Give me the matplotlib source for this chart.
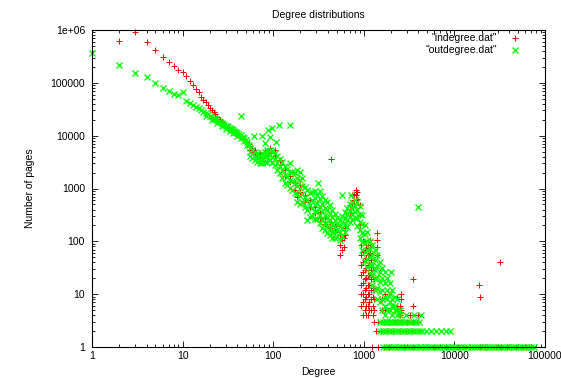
import matplotlib
matplotlib.use("Agg")
import matplotlib.pyplot as plt
from matplotlib.ticker import LogLocator, FuncFormatter, NullFormatter

plt.rcParams["font.family"] = ["Liberation Sans", "DejaVu Sans"]
plt.rcParams["font.size"] = 7.5

# ── indegree.dat (red "+") ───────────────────────────────────────────────────
in_head_deg = [2, 3, 4, 5, 6, 7, 8, 9, 10, 11, 12, 13, 14, 15, 16, 17, 18, 19, 20,
               21, 22, 23, 24, 25, 26, 27, 28, 30, 32, 34, 36, 38, 40, 43, 46, 50,
               54, 58, 62, 66, 70]
in_head_cnt = [630000, 910000, 590000, 420000, 307000, 243000, 204000, 176000,
               159000, 132000, 110000, 91000, 77000, 66000, 55000, 48000, 44000,
               38000, 34000, 31000, 28000, 25500, 23000, 21000, 19500, 18000,
               16800, 15000, 13700, 12700, 11800, 11000, 10300, 9500, 8800, 8000,
               7000, 5900, 4900, 4300, 4000]

in_band_deg = [55, 55, 63, 63, 71, 71, 81, 81, 92, 92, 104, 104, 118, 118, 134, 134,
               152, 152, 173, 173, 182, 182, 196, 196, 223, 223, 253, 253, 288, 288,
               326, 326, 371, 371, 421, 421, 478, 478, 542, 542, 542, 570, 570,
               600, 600, 615, 615, 699, 699, 750, 750, 780, 780, 810, 810, 810,
               840, 840, 901, 901, 901,
               940, 940, 940, 940, 940, 940, 940,
               980, 980, 980, 980, 980, 980, 980, 980,
               1023, 1023, 1023, 1023, 1023, 1023, 1023,
               1060, 1060, 1060, 1060, 1060, 1060, 1060, 1060,
               1100, 1100, 1100, 1100, 1100, 1100, 1100, 1100,
               1150, 1150, 1150, 1150, 1150, 1150, 1150,
               1162, 1162, 1162,
               1200, 1200, 1200, 1200, 1200, 1200,
               1250, 1250, 1250, 1250, 1250, 1250,
               1300, 1300, 1300, 1300,
               1400, 1400, 1400, 1400,
               1590, 1590, 1700, 1700, 2300, 2300, 2490, 2490, 2600, 2600]
in_band_cnt = [6400, 5380, 5380, 4330, 4720, 3960, 5380, 4330, 5870, 4720, 5380, 4140,
               3480, 2800, 2250, 1730, 1730, 1340, 1280, 940, 825, 693, 1170, 862,
               756, 557, 608, 448, 448, 345, 361, 277, 277, 214, 233, 179, 195, 151,
               132, 85, 55, 106, 69, 116, 78, 179, 132, 489, 361, 756, 530,
               800, 600, 940, 756, 608, 860, 640, 489, 316, 204,
               85, 55, 36, 23, 15, 10, 6,
               100, 63, 41, 26, 16, 10, 7, 4,
               69, 44, 29, 19, 12, 8, 5,
               75, 48, 31, 20, 13, 9, 6, 4,
               85, 55, 36, 23, 15, 10, 6, 4,
               55, 36, 23, 15, 10, 7, 5,
               106, 78, 60,
               44, 29, 19, 12, 8, 5,
               33, 21, 13, 9, 6, 4,
               19, 12, 8, 5,
               144, 106, 78, 55,
               8, 5, 10, 5, 9, 6, 6, 4, 8, 5]

in_row3_deg = [1300, 1450, 1650, 1900, 2200, 2600, 3000, 3500, 4000]
in_row2_deg = [1350, 1550, 1800, 2100, 2500, 2900, 3400]
in_row1_deg = [1230, 1420, 1650, 1900, 2300, 2800, 3500, 4500, 6000, 8000, 11000,
               15000, 19000, 21500, 23000, 25500, 29000, 33000, 38000, 42000,
               48000, 56000, 61000, 66000]

in_outl_deg = [440, 2600, 3500, 3500, 3200, 3950, 18500, 19000, 31600]
in_outl_cnt = [3600, 10, 19, 6, 4, 4, 15, 9, 40]

# ── outdegree.dat (green "x") ────────────────────────────────────────────────
out_head_deg = [1, 2, 3, 4, 5, 6, 7, 8, 9, 10, 11]
out_head_cnt = [370000, 219000, 152000, 128000, 99000, 79000, 70000, 62000, 59000,
                68000, 46000]

out_line_deg = [12, 13, 14, 15, 16, 17, 18, 19, 20, 21, 22, 23, 24, 25, 26, 27, 28,
                29, 30, 31, 32, 33, 34, 35, 36, 37, 38, 39, 40, 42, 44, 46, 48, 50,
                52, 54,
                18, 21, 24, 27, 30, 33, 36, 40, 44, 48, 52]
out_line_cnt = [41000, 38000, 35000, 33000, 30500, 28500, 27000, 25500, 24000,
                23000, 22000, 21000, 20000, 19000, 18200, 17500, 16800, 16100,
                15500, 15000, 14400, 14000, 13600, 13100, 12700, 12300, 11900,
                11500, 11200, 10600, 10100, 9500, 8900, 8200, 7500, 6700,
                23500, 20000, 17500, 15300, 13600, 12300, 11200, 9900, 8900, 7800,
                6600]

out_band_deg = [55, 55, 55, 59, 59, 59, 63, 63, 63, 67, 67, 67, 71, 71, 71,
                76, 76, 76, 81, 81, 81, 86, 86, 86, 92, 92, 92, 98, 98, 98,
                104, 104, 104, 111, 111, 111, 118, 118, 118, 126, 126, 126,
                134, 134, 134, 143, 143, 143, 152, 152, 152, 163, 163, 163,
                173, 173, 173, 184, 184, 184, 184, 184, 196, 196, 196, 196, 196,
                209, 209, 209, 209, 223, 223, 223, 237, 237, 237, 237,
                253, 253, 253, 270, 270, 270, 270, 288, 288, 288, 288, 288,
                307, 307, 307, 307, 326, 326, 326, 326, 326,
                348, 348, 348, 348, 348, 371, 371, 371, 371, 371,
                395, 395, 395, 395, 395, 421, 421, 421, 421, 421,
                449, 449, 449, 449, 449, 478, 478, 478, 478, 478,
                509, 509, 509, 509, 542, 542, 542, 542, 578, 578, 578, 578,
                615, 615, 615, 615, 656, 656, 656, 656, 699, 699, 699, 699,
                745, 745, 745, 745, 794, 794, 794, 794, 846, 846, 846, 846,
                901, 901, 901, 901, 901, 962, 962, 962, 962, 962,
                1023, 1023, 1023, 1023, 1023, 1090, 1090, 1090, 1090, 1090,
                1162, 1162, 1162, 1162, 1162, 1240, 1240, 1240, 1240, 1240,
                1320, 1320, 1320, 1320, 1320, 1410, 1410, 1410, 1410, 1410,
                1497, 1497, 1497, 1497, 1497, 1600, 1600, 1600, 1600, 1600,
                1700, 1700, 1700, 1700, 1700, 1820, 1820, 1820, 1820, 1820,
                1930, 1930, 1930, 1930, 1930, 2060, 2060, 2060, 2060,
                2190, 2190, 2190, 2190, 2340, 2340, 2340, 2490, 2490, 2490]
out_band_cnt = [5870, 4930, 4140, 5380, 4520, 3800, 4930, 4140, 3480, 4520, 3800, 3190,
                4330, 3640, 3050, 4720, 3800, 3050, 4930, 3960, 3190, 5380, 4140, 3190,
                5380, 4330, 3480, 5140, 3960, 3050, 4720, 3640, 2800, 4140, 3050, 2250,
                3640, 2680, 1970, 3190, 2250, 1590, 2680, 1810, 1280, 2350, 1660, 1170,
                2060, 1460, 1030, 2060, 1400, 940, 1970, 1280, 825,
                2250, 1590, 1120, 790, 557, 2060, 1460, 1030, 724, 511,
                1590, 1120, 790, 557, 1070, 693, 448, 940, 608, 393, 254,
                825, 489, 290, 862, 608, 429, 303, 900, 664, 489, 361, 266,
                756, 530, 377, 266, 900, 635, 448, 316, 223,
                724, 511, 361, 254, 179, 608, 429, 316, 223, 164,
                557, 393, 277, 195, 144, 489, 345, 254, 179, 132,
                393, 290, 214, 158, 116, 330, 254, 195, 151, 116,
                277, 214, 164, 122, 254, 195, 151, 106, 303, 233, 179, 126,
                361, 277, 214, 151, 429, 330, 254, 187, 511, 393, 303, 233,
                557, 429, 330, 254, 608, 468, 361, 277, 557, 393, 277, 195,
                468, 330, 233, 164, 116, 316, 214, 144, 97, 69,
                204, 138, 93, 63, 43, 151, 102, 69, 47, 33,
                102, 72, 51, 36, 25, 85, 55, 36, 23, 15,
                69, 44, 29, 19, 12, 55, 34, 21, 13, 8,
                41, 26, 17, 11, 7, 31, 20, 12, 8, 5,
                26, 16, 9, 6, 4, 20, 12, 8, 5, 3,
                16, 10, 7, 5, 3, 12, 8, 6, 4,
                9, 6, 5, 3, 8, 5, 4, 5, 4, 3]

out_row3_deg = [1500, 1620, 1750, 1890, 2040, 2200, 2380, 2570, 2770, 2990, 3230,
                3490, 3770, 4070]
out_row2_deg = [1500, 1620, 1750, 1890, 2040, 2200, 2380, 2570, 2770, 2990, 3230,
                3490, 3770, 4070, 4400, 4800, 5500, 6300, 7200, 8000, 8850]
out_row1_deg = [1620, 1750, 1890, 2040, 2200, 2380, 2570, 2770, 2990, 3230, 3490,
                3770, 4070, 4400, 4750, 5130, 5540, 5980, 6460, 6980, 7540, 8140,
                8790, 9490, 10250, 11070, 11960, 12910, 13950, 15060, 16270, 17570,
                18970, 20490, 22130, 23900, 25810, 27880, 30110, 32520, 35120,
                37930, 40960, 44240, 47780, 51600, 55730, 60190, 65000, 70200, 76000]

out_outl_deg = [44, 62, 76, 88, 98, 116, 155, 92, 108, 81, 152, 310, 570, 720, 3980,
                2000, 2950, 3600, 4300]
out_outl_cnt = [23700, 9900, 9900, 12900, 13800, 16000, 16000, 9600, 7500, 7300, 3000,
                1280, 740, 756, 450, 26, 4, 4, 4]

in_deg = (in_head_deg + in_band_deg + in_row3_deg + in_row2_deg + in_row1_deg
          + in_outl_deg)
in_cnt = (in_head_cnt + in_band_cnt + [3] * len(in_row3_deg) + [2] * len(in_row2_deg)
          + [1] * len(in_row1_deg) + in_outl_cnt)
out_deg = (out_head_deg + out_line_deg + out_band_deg + out_row3_deg + out_row2_deg
           + out_row1_deg + out_outl_deg)
out_cnt = (out_head_cnt + out_line_cnt + out_band_cnt + [3] * len(out_row3_deg)
           + [2] * len(out_row2_deg) + [1] * len(out_row1_deg) + out_outl_cnt)

RED = "#ff0000"
GREEN = "#00ff00"
IN_STYLE = dict(linestyle="none", marker="+", ms=4.3, mew=0.7, color=RED)
OUT_STYLE = dict(linestyle="none", marker="x", ms=3.9, mew=0.95, color=GREEN)

fig = plt.figure(figsize=(5.61, 3.78), dpi=100)
ax = fig.add_axes([92 / 561, 31 / 378, 453 / 561, 317 / 378])

ax.plot(in_deg, in_cnt, clip_on=False, **IN_STYLE)
ax.plot(out_deg, out_cnt, clip_on=False, **OUT_STYLE)

ax.set_xscale("log")
ax.set_yscale("log")
ax.set_xlim(1, 100000)
ax.set_ylim(1, 1e6)

fmt = FuncFormatter(lambda v, pos: "1e+06" if v >= 1e6 else f"{int(round(v))}")
ax.xaxis.set_major_formatter(fmt)
ax.yaxis.set_major_formatter(fmt)
ax.xaxis.set_major_locator(LogLocator(base=10, numticks=10))
ax.yaxis.set_major_locator(LogLocator(base=10, numticks=10))
ax.xaxis.set_minor_locator(LogLocator(base=10, subs=range(2, 10), numticks=20))
ax.yaxis.set_minor_locator(LogLocator(base=10, subs=range(2, 10), numticks=20))
ax.xaxis.set_minor_formatter(NullFormatter())
ax.yaxis.set_minor_formatter(NullFormatter())
ax.tick_params(which="both", direction="in", top=True, right=True, width=0.6)
ax.tick_params(which="major", length=4, labelsize=7.5)
ax.tick_params(axis="y", which="major", pad=5)
ax.tick_params(axis="x", which="major", pad=3)
ax.tick_params(which="minor", length=2)
for s in ax.spines.values():
    s.set_linewidth(0.8)

ax.set_title("Degree distributions", fontsize=7.5, pad=9)
ax.set_xlabel("Degree", fontsize=7.5, labelpad=4)
ax.set_ylabel("Number of pages", fontsize=7.5, labelpad=11)

# gnuplot-style key, text right-aligned before the symbol
ax.text(0.894, 0.975, '"indegree.dat"', transform=ax.transAxes, ha="right",
        va="center", fontsize=7.5)
ax.plot([0.934], [0.975], transform=ax.transAxes, **IN_STYLE)
ax.text(0.894, 0.937, '"outdegree.dat"', transform=ax.transAxes, ha="right",
        va="center", fontsize=7.5)
ax.plot([0.934], [0.937], transform=ax.transAxes, **OUT_STYLE)

fig.savefig("out.png", dpi=100)
